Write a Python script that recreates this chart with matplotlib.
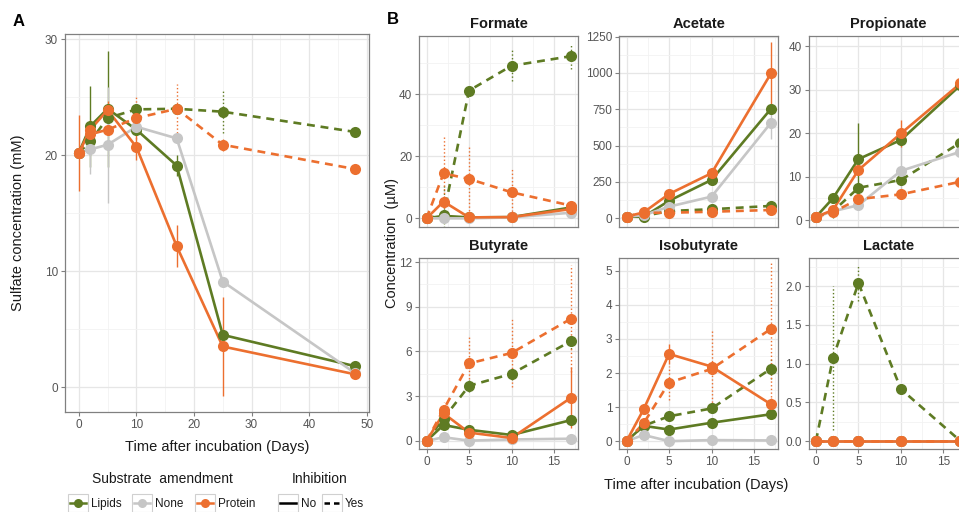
import matplotlib.pyplot as plt
from matplotlib.lines import Line2D
from matplotlib.patches import Rectangle
from matplotlib.ticker import MultipleLocator

plt.rcParams['font.family'] = ['Liberation Sans', 'DejaVu Sans']

green = "#5e7b23"
gray = "#c6c6c6"
orange = "#ec6f2f"

# ---- panel A: sulfate (mM) ----
days_a = [0, 2, 5, 10, 17, 25, 48]
sulf_lipids_no = [20.2, 22.5, 24.0, 22.2, 19.1, 4.5, 1.8]
sulf_lipids_no_sd = [0, 3.5, 5.0, 0.4, 0.9, 0.3, 0.3]
sulf_lipids_yes = [20.2, 21.2, 23.2, 23.95, 24.0, 23.75, 22.0]
sulf_lipids_yes_sd = [0, 0.5, 0.4, 0.4, 0.3, 1.8, 0.4]
sulf_none_no = [20.2, 20.5, 20.9, 22.45, 21.45, 9.1, 1.2]
sulf_none_no_sd = [0, 2.1, 5.0, 0.4, 0.4, 0.3, 0.2]
sulf_protein_no = [20.2, 22.2, 23.9, 20.7, 12.15, 3.5, 1.1]
sulf_protein_no_sd = [3.3, 0.8, 0.8, 1.1, 1.8, 4.3, 0.2]
sulf_protein_yes = [20.2, 21.8, 22.2, 23.2, 24.0, 20.9, 18.8]
sulf_protein_yes_sd = [0, 0.4, 0.4, 1.8, 2.1, 0.5, 0.3]

# ---- panel B: fatty acids (uM) ----
days_b = [0, 2, 5, 10, 17]

formate_lipids_no = [0, 0.8, 0.3, 0.4, 3.5]
formate_lipids_no_sd = [0, 0.5, 0.3, 0.3, 0.8]
formate_lipids_yes = [0, 1.0, 41.2, 49.2, 52.3]
formate_lipids_yes_sd = [0, 10.0, 1.8, 5.0, 4.0]
formate_none_no = [0, 0, 0, 0.3, 1.8]
formate_none_no_sd = [0, 0, 0, 0, 0.5]
formate_protein_no = [0, 5.4, 0.3, 0.4, 3.0]
formate_protein_no_sd = [0, 1.5, 0.3, 0.3, 0.8]
formate_protein_yes = [0, 14.5, 12.7, 8.4, 4.1]
formate_protein_yes_sd = [0, 12.4, 10.4, 7.4, 1.0]

acetate_lipids_no = [12, 10, 120, 264, 754]
acetate_lipids_no_sd = [0, 5, 10, 15, 20]
acetate_lipids_yes = [12, 15, 50, 62, 85]
acetate_lipids_yes_sd = [0, 5, 5, 5, 10]
acetate_none_no = [12, 20, 80, 149, 658]
acetate_none_no_sd = [0, 5, 10, 10, 114]
acetate_protein_no = [12, 40, 167, 310, 998]
acetate_protein_no_sd = [0, 8, 15, 15, 215]
acetate_protein_yes = [12, 38, 38, 45, 57]
acetate_protein_yes_sd = [0, 5, 5, 5, 8]

propionate_lipids_no = [0.7, 5.0, 14.0, 18.4, 31.0]
propionate_lipids_no_sd = [0, 0.6, 8.4, 1.0, 9.0]
propionate_lipids_yes = [0.7, 2.0, 7.4, 9.2, 17.8]
propionate_lipids_yes_sd = [0, 1.5, 0.5, 0.5, 0.6]
propionate_none_no = [0.7, 2.0, 3.4, 11.3, 15.7]
propionate_none_no_sd = [0, 0.3, 0.4, 6.0, 0.8]
propionate_protein_no = [0.7, 2.3, 11.5, 19.9, 31.4]
propionate_protein_no_sd = [0, 0.4, 0.6, 3.2, 1.0]
propionate_protein_yes = [0.7, 1.8, 4.8, 5.9, 8.8]
propionate_protein_yes_sd = [0, 0.5, 0.6, 1.0, 2.0]

butyrate_lipids_no = [0, 1.07, 0.75, 0.4, 1.4]
butyrate_lipids_no_sd = [0, 0.2, 0.1, 0.1, 0.3]
butyrate_lipids_yes = [0, 1.5, 3.7, 4.5, 6.7]
butyrate_lipids_yes_sd = [0, 0.3, 0.4, 0.4, 0.5]
butyrate_none_no = [0, 0.25, 0.02, 0.1, 0.15]
butyrate_none_no_sd = [0, 0.05, 0.02, 0.05, 0.05]
butyrate_protein_no = [0, 1.85, 0.56, 0.2, 2.9]
butyrate_protein_no_sd = [0, 0.3, 0.1, 0.1, 2.05]
butyrate_protein_yes = [0, 2.1, 5.2, 5.9, 8.2]
butyrate_protein_yes_sd = [0, 0.5, 1.8, 2.3, 3.6]

isobutyrate_lipids_no = [0, 0.45, 0.34, 0.54, 0.79]
isobutyrate_lipids_no_sd = [0, 0.05, 0.05, 0.05, 0.05]
isobutyrate_lipids_yes = [0, 0.45, 0.73, 0.96, 2.13]
isobutyrate_lipids_yes_sd = [0, 0.05, 0.05, 0.1, 0.3]
isobutyrate_none_no = [0, 0.18, 0.0, 0.03, 0.02]
isobutyrate_none_no_sd = [0, 0.05, 0, 0, 0]
isobutyrate_protein_no = [0, 0.93, 2.56, 2.19, 1.08]
isobutyrate_protein_no_sd = [0, 0.1, 0.3, 0.1, 0.2]
isobutyrate_protein_yes = [0, 0.52, 1.72, 2.12, 3.3]
isobutyrate_protein_yes_sd = [0, 0.1, 0.5, 1.1, 2.0]

lactate_lipids_no = [0, 0, 0, 0, 0]
lactate_lipids_yes = [0, 1.07, 2.04, 0.67, 0]
lactate_lipids_yes_sd = [0, 0.93, 0.23, 0.05, 0]
lactate_none_no = [0, 0, 0, 0, 0]
lactate_protein_no = [0, 0, 0, 0, 0]
lactate_protein_yes = [0, 0, 0, 0, 0]
zeros_sd = [0, 0, 0, 0, 0]

dash = (0, (3, 2.2))


def draw(ax, x, series):
    # ggplot layer order: errorbars, then lines, then points
    for color, yes, y, sd in series:
        lo = [v - s for v, s in zip(y, sd)]
        hi = [v + s for v, s in zip(y, sd)]
        ax.vlines(x, lo, hi, colors=color, linestyles=':' if yes else '-',
                  lw=1.0, zorder=2)
    for color, yes, y, sd in series:
        ax.plot(x, y, color=color, lw=1.9, linestyle=dash if yes else '-',
                zorder=3)
    for color, yes, y, sd in series:
        ax.plot(x, y, 'o', color=color, ms=8, mew=0, zorder=4)


def style(ax, major, minor):
    for s in ax.spines.values():
        s.set_color('#808080')
        s.set_linewidth(0.9)
    ax.yaxis.set_major_locator(MultipleLocator(major))
    ax.yaxis.set_minor_locator(MultipleLocator(minor))
    ax.grid(which='major', color='#e6e6e6', lw=0.9)
    ax.grid(which='minor', color='#f2f2f2', lw=0.6)
    ax.set_axisbelow(True)
    ax.tick_params(which='major', length=3, width=0.8, color='#808080',
                   labelsize=8.5, labelcolor='#555555', pad=2)
    ax.tick_params(which='minor', length=0)


W, H = 959, 512
fig = plt.figure(figsize=(9.59, 5.12), dpi=100)


def box(l, t, r, b):
    return [l / W, 1 - b / H, (r - l) / W, (b - t) / H]


# panel A
axA = fig.add_axes(box(65, 34, 369, 412))
draw(axA, days_a, [
    (green, False, sulf_lipids_no, sulf_lipids_no_sd),
    (green, True, sulf_lipids_yes, sulf_lipids_yes_sd),
    (gray, False, sulf_none_no, sulf_none_no_sd),
    (orange, False, sulf_protein_no, sulf_protein_no_sd),
    (orange, True, sulf_protein_yes, sulf_protein_yes_sd),
])
style(axA, 10, 5)
axA.xaxis.set_major_locator(MultipleLocator(10))
axA.xaxis.set_minor_locator(MultipleLocator(5))
axA.set_xlim(-2.4, 50.4)
axA.set_ylim(-2.15, 30.45)
fig.text(217 / W, 1 - 447 / H, "Time after incubation (Days)", ha='center',
         va='center', fontsize=10.5, color='#1a1a1a')
fig.text(18 / W, 1 - 223 / H, "Sulfate concentration (mM)", ha='center',
         va='center', rotation=90, fontsize=10.5, color='#1a1a1a')
fig.text(19 / W, 1 - 22 / H, "A", ha='center', va='center', fontsize=12,
         fontweight='bold')
fig.text(393 / W, 1 - 20 / H, "B", ha='center', va='center', fontsize=12,
         fontweight='bold')

# panel B facets
lefts = [419.3, 619.3, 808.7]
panel_w = 159
tops = [(36, 226.7), (258.3, 449.3)]

facets = [
    ("Formate", 0, 0, (-2.7, 58.8), 20, 10, [
        (green, False, formate_lipids_no, formate_lipids_no_sd),
        (green, True, formate_lipids_yes, formate_lipids_yes_sd),
        (gray, False, formate_none_no, formate_none_no_sd),
        (orange, False, formate_protein_no, formate_protein_no_sd),
        (orange, True, formate_protein_yes, formate_protein_yes_sd)]),
    ("Acetate", 0, 1, (-58, 1254), 250, 125, [
        (green, False, acetate_lipids_no, acetate_lipids_no_sd),
        (green, True, acetate_lipids_yes, acetate_lipids_yes_sd),
        (gray, False, acetate_none_no, acetate_none_no_sd),
        (orange, False, acetate_protein_no, acetate_protein_no_sd),
        (orange, True, acetate_protein_yes, acetate_protein_yes_sd)]),
    ("Propionate", 0, 2, (-1.54, 42.3), 10, 5, [
        (green, False, propionate_lipids_no, propionate_lipids_no_sd),
        (green, True, propionate_lipids_yes, propionate_lipids_yes_sd),
        (gray, False, propionate_none_no, propionate_none_no_sd),
        (orange, False, propionate_protein_no, propionate_protein_no_sd),
        (orange, True, propionate_protein_yes, propionate_protein_yes_sd)]),
    ("Butyrate", 1, 0, (-0.56, 12.25), 3, 1.5, [
        (green, False, butyrate_lipids_no, butyrate_lipids_no_sd),
        (green, True, butyrate_lipids_yes, butyrate_lipids_yes_sd),
        (gray, False, butyrate_none_no, butyrate_none_no_sd),
        (orange, False, butyrate_protein_no, butyrate_protein_no_sd),
        (orange, True, butyrate_protein_yes, butyrate_protein_yes_sd)]),
    ("Isobutyrate", 1, 1, (-0.24, 5.37), 1, 0.5, [
        (green, False, isobutyrate_lipids_no, isobutyrate_lipids_no_sd),
        (green, True, isobutyrate_lipids_yes, isobutyrate_lipids_yes_sd),
        (gray, False, isobutyrate_none_no, isobutyrate_none_no_sd),
        (orange, False, isobutyrate_protein_no, isobutyrate_protein_no_sd),
        (orange, True, isobutyrate_protein_yes, isobutyrate_protein_yes_sd)]),
    ("Lactate", 1, 2, (-0.107, 2.36), 0.5, 0.25, [
        (green, False, lactate_lipids_no, zeros_sd),
        (green, True, lactate_lipids_yes, lactate_lipids_yes_sd),
        (gray, False, lactate_none_no, zeros_sd),
        (orange, False, lactate_protein_no, zeros_sd),
        (orange, True, lactate_protein_yes, zeros_sd)]),
]

for name, row, col, ylim, major, minor, series in facets:
    t, b = tops[row]
    ax = fig.add_axes(box(lefts[col], t, lefts[col] + panel_w, b))
    draw(ax, days_b, series)
    style(ax, major, minor)
    ax.xaxis.set_major_locator(MultipleLocator(5))
    ax.xaxis.set_minor_locator(MultipleLocator(2.5))
    ax.set_xlim(-0.85, 17.85)
    ax.set_ylim(*ylim)
    if row == 0:
        ax.tick_params(axis='x', bottom=False, labelbottom=False)
    ax.set_title(name, fontsize=10.5, fontweight='bold', color='#1a1a1a',
                 pad=6)

fig.text(696 / W, 1 - 485 / H, "Time after incubation (Days)", ha='center',
         va='center', fontsize=10.5, color='#1a1a1a')
fig.text(392 / W, 1 - 243 / H, "Concentration  (\u00b5M)", ha='center',
         va='center', rotation=90, fontsize=10.5, color='#1a1a1a')

# legends (drawn by hand to get the boxed ggplot keys)
fig.text(162 / W, 1 - 479 / H, "Substrate  amendment", ha='center',
         va='center', fontsize=10, color='#1a1a1a')
fig.text(320 / W, 1 - 479 / H, "Inhibition", ha='center', va='center',
         fontsize=10, color='#1a1a1a')

legend_keys = [
    (68.3, green, '-', True, "Lipids"),
    (131.7, gray, '-', True, "None"),
    (195, orange, '-', True, "Protein"),
    (278.3, 'black', '-', False, "No"),
    (321.7, 'black', (0, (2.2, 1.6)), False, "Yes"),
]
ky0, ky1 = 493.5, 511.5
for x0, color, ls, with_marker, label in legend_keys:
    fig.add_artist(Rectangle((x0 / W, 1 - ky1 / H), 20 / W, (ky1 - ky0) / H,
                             transform=fig.transFigure, fill=False,
                             ec='#d0d0d0', lw=0.8))
    yc = 1 - (ky0 + ky1) / 2 / H
    fig.add_artist(Line2D([(x0 + 2) / W, (x0 + 18) / W], [yc, yc],
                          transform=fig.transFigure, color=color, lw=1.8,
                          linestyle=ls))
    if with_marker:
        fig.add_artist(Line2D([(x0 + 10) / W], [yc], transform=fig.transFigure,
                              marker='o', ms=6.5, mew=0, color=color))
    fig.text((x0 + 23) / W, yc, label, ha='left', va='center_baseline',
             fontsize=8.5, color='#1a1a1a')

fig.savefig("out.png", dpi=100)
